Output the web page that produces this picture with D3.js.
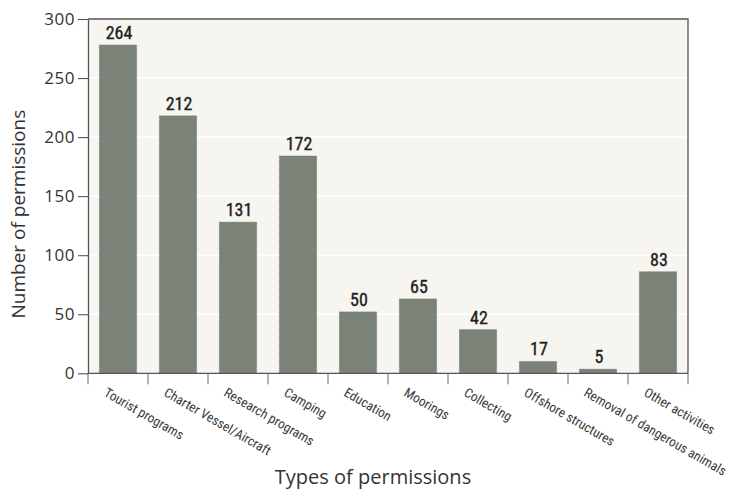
<!DOCTYPE html>
<html>
<head>
<meta charset="utf-8">
<script src="https://cdn.jsdelivr.net/npm/d3@7/dist/d3.min.js"></script>
<style>
  html, body { margin: 0; padding: 0; background: #ffffff; }
  svg { display: block; }
</style>
</head>
<body>
<svg id="chart" width="736" height="490"></svg>
<script>
// ---- data ----
const categories = ["Tourist programs", "Charter Vessel/Aircraft", "Research programs", "Camping",
  "Education", "Moorings", "Collecting", "Offshore structures", "Removal of dangerous animals", "Other activities"];
// printed value labels
const labelValues = [264, 212, 131, 172, 50, 65, 42, 17, 5, 83];
// bar heights as drawn in the reference
const barValues = [278, 218, 128, 184, 52, 63, 37, 10, 3.5, 86];
const yTicks = [0, 50, 100, 150, 200, 250, 300];
const yTitle = "Number of permissions";
const xTitle = "Types of permissions";

// ---- layout ----
const svg = d3.select("#chart");
const pLeft = 88, pRight = 688, pTop = 19, pBottom = 373.3;

const x = d3.scaleBand().domain(categories).range([pLeft, pRight]).paddingInner(0.38).paddingOuter(0.19);
const y = d3.scaleLinear().domain([0, 300]).range([pBottom, pTop]);

// plot background
svg.append("rect").attr("x", pLeft).attr("y", pTop).attr("width", pRight - pLeft).attr("height", pBottom - pTop)
  .attr("fill", "#f6f5f0");

// faint gridlines
svg.append("g").selectAll("line").data(yTicks.filter(d => d > 0 && d < 300)).join("line")
  .attr("x1", pLeft).attr("x2", pRight).attr("y1", d => y(d)).attr("y2", d => y(d))
  .attr("stroke", "#fefefd").attr("stroke-width", 2);

// bars
svg.append("g").selectAll("rect").data(categories).join("rect")
  .attr("x", d => x(d))
  .attr("width", x.bandwidth())
  .attr("y", (d, i) => y(barValues[i]))
  .attr("height", (d, i) => y(0) - y(barValues[i]))
  .attr("fill", "#7b8378")
  .attr("stroke", "#6b7268").attr("stroke-width", 0.8).attr("stroke-dasharray", "1,1");

// value labels
svg.append("g").selectAll("text").data(categories).join("text")
  .attr("x", d => x(d) + x.bandwidth() / 2 + 1)
  .attr("y", (d, i) => y(barValues[i]) - 6)
  .attr("text-anchor", "middle")
  .attr("font-family", "'Liberation Sans Narrow', 'Roboto Condensed', 'Arial Narrow', sans-serif")
  .attr("font-size", 18).attr("fill", "#1e1e1e")
  .attr("stroke", "#1e1e1e").attr("stroke-width", 0.35)
  .text((d, i) => labelValues[i]);

// frame: top and right
svg.append("path")
  .attr("d", `M${pLeft},${pTop}H${pRight}V${pBottom}`)
  .attr("fill", "none").attr("stroke", "#555").attr("stroke-width", 1.3);

// y axis
const yAxis = d3.axisLeft(y).tickValues(yTicks).tickSize(10).tickPadding(3).tickSizeOuter(0);
const gy = svg.append("g").attr("transform", `translate(${pLeft},0)`).call(yAxis);
gy.select(".domain").attr("stroke", "#555").attr("stroke-width", 1.3);
gy.selectAll(".tick line").attr("stroke", "#555").attr("stroke-width", 1.1);
gy.selectAll(".tick text")
  .attr("font-family", "'Open Sans', 'DejaVu Sans', sans-serif")
  .attr("font-size", 17).attr("fill", "#333").attr("letter-spacing", 0.5);

// x axis line
svg.append("line").attr("x1", pLeft).attr("x2", pRight).attr("y1", pBottom).attr("y2", pBottom)
  .attr("stroke", "#555").attr("stroke-width", 1.3);

// x ticks at band boundaries
const step = x.step();
const boundaries = categories.map(c => x(c) - step * x.paddingInner() / 2).concat([pRight]);
svg.append("g").selectAll("line").data(boundaries).join("line")
  .attr("x1", d => d).attr("x2", d => d).attr("y1", pBottom).attr("y2", pBottom + 11)
  .attr("stroke", "#666").attr("stroke-width", 1);

// x tick labels (rotated)
svg.append("g").selectAll("text").data(categories).join("text")
  .attr("transform", d => `translate(${x(d) + x.bandwidth() / 2 - 15},${pBottom + 22}) rotate(30)`)
  .attr("text-anchor", "start")
  .attr("font-family", "'Liberation Sans Narrow', 'Roboto Condensed', 'Arial Narrow', sans-serif")
  .attr("font-size", 13.3).attr("fill", "#3a3a3a")
  .text(d => d);

// axis titles
svg.append("text")
  .attr("transform", `translate(25,${(pTop + pBottom) / 2 + 18}) rotate(-90)`)
  .attr("text-anchor", "middle")
  .attr("font-family", "'Open Sans', 'DejaVu Sans', sans-serif")
  .attr("font-size", 19).attr("fill", "#333")
  .text(yTitle);

svg.append("text")
  .attr("x", 373).attr("y", 484)
  .attr("text-anchor", "middle")
  .attr("font-family", "'Open Sans', 'DejaVu Sans', sans-serif")
  .attr("font-size", 20).attr("fill", "#333")
  .text(xTitle);
</script>
</body>
</html>
